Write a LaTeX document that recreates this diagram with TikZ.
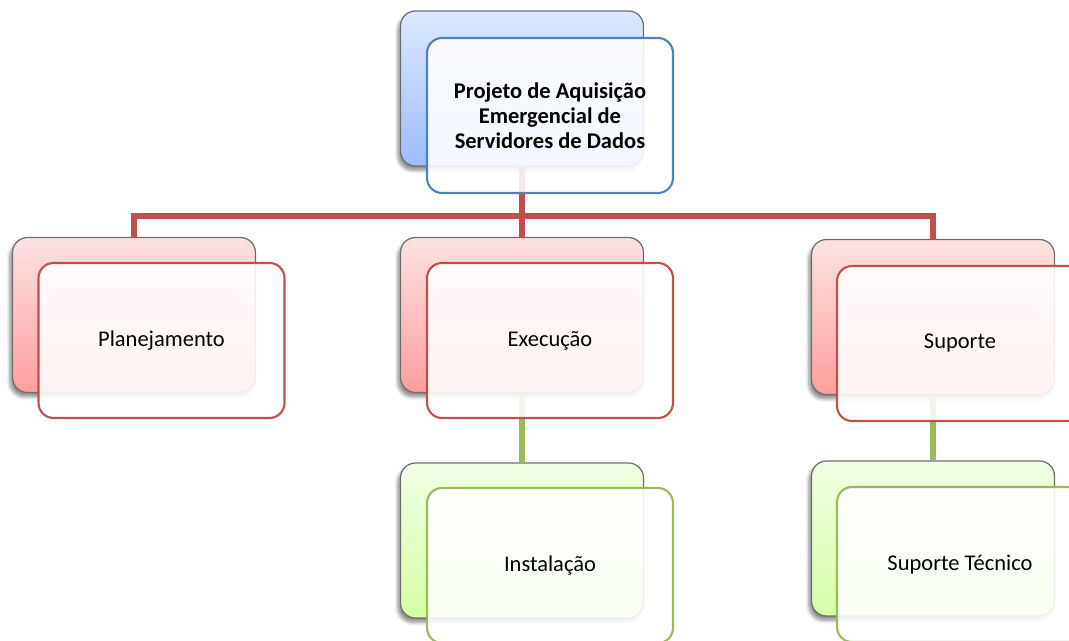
\documentclass[tikz,border=0pt]{standalone}
\usepackage{fontspec}
\setmainfont{Carlito}
\usetikzlibrary{shadows.blur}
\definecolor{redc}{HTML}{C0504D}
\definecolor{bluec}{HTML}{4F81BD}
\definecolor{greenc}{HTML}{9BBB59}
\definecolor{grayb}{HTML}{6E6E6E}
\definecolor{redtop}{HTML}{FFE2E2}
\definecolor{redbot}{HTML}{FF9E9E}
\definecolor{bluetop}{HTML}{DDE8FF}
\definecolor{bluebot}{HTML}{9DBDFF}
\definecolor{greentop}{HTML}{F2FFE4}
\definecolor{greenbot}{HTML}{D6FFA6}
\begin{document}
\begin{tikzpicture}[x=0.02cm,y=-0.02cm,
  backbox/.style={rectangle, rounded corners=0.3cm, draw=grayb, line width=0.7pt,
    minimum width=4.86cm, minimum height=3.1cm, inner sep=0pt,
    blur shadow={shadow xshift=-1.5pt, shadow yshift=-2.5pt, shadow blur steps=6, shadow opacity=45}},
  backred/.style={backbox, top color=redtop, bottom color=redbot},
  backblue/.style={backbox, top color=bluetop, bottom color=bluebot},
  backgreen/.style={backbox, top color=greentop, bottom color=greenbot},
  frontbox/.style={rectangle, rounded corners=0.3cm, line width=1.2pt,
    minimum width=4.92cm, minimum height=3.1cm, inner sep=0pt,
    fill=white, fill opacity=0.88, text opacity=1, align=center,
    font=\fontsize{12.8}{14.3}\selectfont},
  frontred/.style={frontbox, draw=redc},
  frontblue/.style={frontbox, draw=bluec},
  frontgreen/.style={frontbox, draw=greenc},
  redline/.style={draw=redc, line width=3.3pt},
  greenline/.style={draw=greenc, line width=3.3pt}
]
\useasboundingbox (0,0) rectangle (1069,641);
% back boxes
\node[backblue] (topb) at (522,88.5) {};
\node[backred] (planb) at (134,315) {};
\node[backred] (execb) at (522,315) {};
\node[backred] (supb) at (933,317) {};
\node[backgreen] (instb) at (522,540.5) {};
\node[backgreen] (suptb) at (933,538.5) {};
% connectors
\coordinate (bus) at (522,216);
\draw[redline] (topb.south) -- (bus);
\draw[redline] (planb.north) |- (bus) -| (supb.north);
\draw[redline] (bus) -- (execb.north);
\draw[greenline] (execb.south) -- (instb.north);
\draw[greenline] (supb.south) -- (suptb.north);
% front boxes
\node[frontblue, font=\fontsize{12.8}{14.3}\selectfont\bfseries] (top) at (550,115.5) {Projeto de Aquisição\\Emergencial de\\Servidores de Dados};
\node[frontred] (plan) at (161.5,340.5) {Planejamento};
\node[frontred] (exec) at (550,340.5) {Execução};
\node[frontred] (sup) at (960,343.5) {Suporte};
\node[frontgreen] (inst) at (550,565.5) {Instalação};
\node[frontgreen] (supt) at (960,564.5) {Suporte Técnico};
\end{tikzpicture}
\end{document}
